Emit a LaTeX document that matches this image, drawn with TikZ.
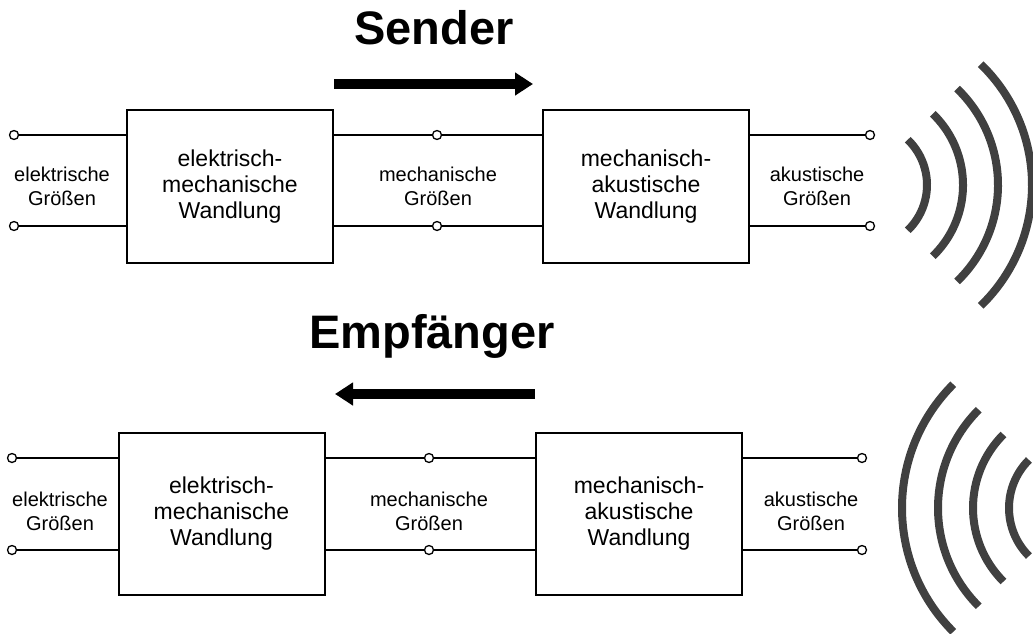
\documentclass[tikz,border=0pt]{standalone}
\usepackage{fontspec}
\setmainfont{Liberation Sans}
\usetikzlibrary{arrows.meta}
\definecolor{wavegray}{HTML}{404040}
\tikzset{
  wandler/.style={draw, line width=2pt, fill=white, inner sep=0pt,
    minimum width=206pt, align=center, font=\fontsize{23}{26}\selectfont},
  klemme/.style={circle, draw, fill=white, line width=1.3pt, inner sep=0pt, minimum size=9pt},
  groesse/.style={align=center, inner sep=0pt, font=\fontsize{20}{24}\selectfont},
  leitung/.style={line width=1.3pt},
  titel/.style={anchor=base, inner sep=0pt, font=\fontsize{47}{50}\selectfont\bfseries},
  richtung/.style={line width=10pt, -{Triangle[length=18pt,width=22pt]}},
  welle/.style={line width=8pt, wavegray}
}
\begin{document}
\begin{tikzpicture}[x=1pt, y=-1pt]
\useasboundingbox (0,0) rectangle (1033,634);

% ---------- Sender ----------
\node[titel] (sendtitle) at (434,45) {Sender};
\coordinate (sa) at (334,84);
\coordinate (sb) at (533,84);
\draw[richtung] (sa) -- (sb);

\node[wandler, minimum height=153pt] (sw1) at (230,186.5) {elektrisch-\\mechanische\\Wandlung};
\node[wandler, minimum height=153pt] (sw2) at (646,186.5) {mechanisch-\\akustische\\Wandlung};

\node[klemme] (se1) at (14,135) {};
\node[klemme] (se2) at (14,226) {};
\node[klemme] (sm1) at (437,135) {};
\node[klemme] (sm2) at (437,226) {};
\node[klemme] (sk1) at (870,135) {};
\node[klemme] (sk2) at (870,226) {};

\draw[leitung] (se1) -- (se1 -| sw1.west);
\draw[leitung] (se2) -- (se2 -| sw1.west);
\draw[leitung] (sm1 -| sw1.east) -- (sm1) -- (sm1 -| sw2.west);
\draw[leitung] (sm2 -| sw1.east) -- (sm2) -- (sm2 -| sw2.west);
\draw[leitung] (sk1 -| sw2.east) -- (sk1);
\draw[leitung] (sk2 -| sw2.east) -- (sk2);

\node[groesse] (sg1) at (62,186) {elektrische\\Größen};
\node[groesse] (sg2) at (438,186) {mechanische\\Größen};
\node[groesse] (sg3) at (817,186) {akustische\\Größen};

% outgoing sound waves
\coordinate (sq) at (864,185);
\foreach \r in {63,99,134,168}
  \draw[welle] (sq) ++(46:\r pt) arc[start angle=46, end angle=-46, radius=\r pt];

% ---------- Empfänger ----------
\node[titel] (emptitle) at (432,348) {Empfänger};
\coordinate (ea) at (535,394);
\coordinate (eb) at (335,394);
\draw[richtung] (ea) -- (eb);

\node[wandler, minimum height=162pt] (ew1) at (221.5,514) {elektrisch-\\mechanische\\Wandlung};
\node[wandler, minimum height=162pt] (ew2) at (639,514) {mechanisch-\\akustische\\Wandlung};

\node[klemme] (ee1) at (12,458) {};
\node[klemme] (ee2) at (12,550) {};
\node[klemme] (em1) at (429,458) {};
\node[klemme] (em2) at (429,550) {};
\node[klemme] (ek1) at (862,458) {};
\node[klemme] (ek2) at (862,550) {};

\draw[leitung] (ee1) -- (ee1 -| ew1.west);
\draw[leitung] (ee2) -- (ee2 -| ew1.west);
\draw[leitung] (em1 -| ew1.east) -- (em1) -- (em1 -| ew2.west);
\draw[leitung] (em2 -| ew1.east) -- (em2) -- (em2 -| ew2.west);
\draw[leitung] (ek1 -| ew2.east) -- (ek1);
\draw[leitung] (ek2 -| ew2.east) -- (ek2);

\node[groesse] (eg1) at (60,511) {elektrische\\Größen};
\node[groesse] (eg2) at (429,511) {mechanische\\Größen};
\node[groesse] (eg3) at (811,511) {akustische\\Größen};

% incoming sound waves
\coordinate (eq) at (1077,508);
\foreach \r in {68,104,139,175}
  \draw[welle] (eq) ++(135:\r pt) arc[start angle=135, end angle=225, radius=\r pt];
\end{tikzpicture}
\end{document}
